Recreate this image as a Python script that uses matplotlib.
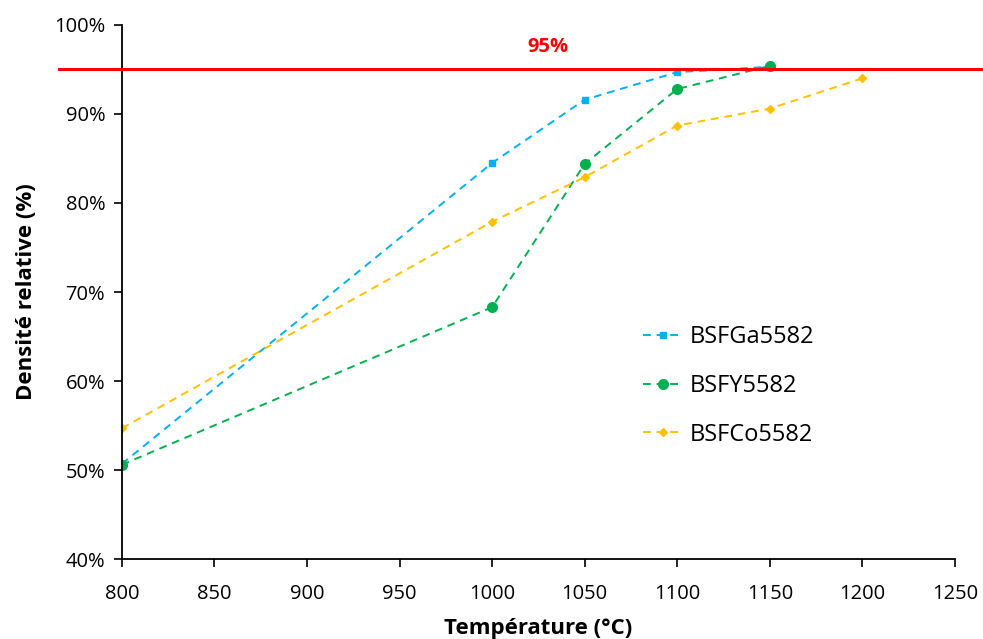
import matplotlib.pyplot as plt
from matplotlib.ticker import PercentFormatter

plt.rcParams['font.family'] = ['Open Sans', 'DejaVu Sans']

# data
temp_ga = [800, 1000, 1050, 1100, 1150]
dens_ga = [50.7, 84.5, 91.6, 94.7, 95.3]

temp_y = [800, 1000, 1050, 1100, 1150]
dens_y = [50.6, 68.3, 84.4, 92.8, 95.4]

temp_co = [800, 1000, 1050, 1100, 1150, 1200]
dens_co = [54.7, 77.9, 82.9, 88.7, 90.6, 94.0]

seuil = 95

fig = plt.figure(figsize=(9.83, 6.39), dpi=100)
ax = fig.add_axes([0.124, 0.125, 0.8475, 0.836])

ax.plot(temp_ga, dens_ga, linestyle=(0, (4, 3)), color='#00B0F0', marker='s', markersize=4.5,
        linewidth=1.4, label='BSFGa5582')
ax.plot(temp_y, dens_y, linestyle=(0, (4, 3)), color='#00B050', marker='o', markersize=7,
        linewidth=1.4, label='BSFY5582')
ax.plot(temp_co, dens_co, linestyle=(0, (4, 3)), color='#FFC000', marker='D', markersize=4.5,
        linewidth=1.4, label='BSFCo5582')

# 95% threshold line, extends past the axes like in the original
ax.axhline(seuil, xmin=-0.075, xmax=1.04, color='#FF0000', linewidth=2.2, clip_on=False, zorder=5)
ax.text(1030, seuil + 2.5, '95%', color='#FF0000', fontsize=14.5, fontweight='bold',
        ha='center', va='center')

ax.set_xlim(800, 1250)
ax.set_ylim(40, 100)
ax.set_xticks(range(800, 1251, 50))
ax.set_yticks(range(40, 101, 10))
ax.yaxis.set_major_formatter(PercentFormatter(decimals=0))
ax.tick_params(labelsize=14.5, direction='out', length=6, width=1.2, colors='black')
ax.tick_params(axis='x', pad=12)
ax.tick_params(axis='y', pad=6)

for s in ['top', 'right']:
    ax.spines[s].set_visible(False)
for s in ['left', 'bottom']:
    ax.spines[s].set_linewidth(1.3)

ax.set_xlabel('Température (°C)', fontsize=16, fontweight='bold', labelpad=10)
ax.set_ylabel('Densité relative (%)', fontsize=16, fontweight='bold', labelpad=12)

ax.legend(loc='upper left', bbox_to_anchor=(0.6, 0.478), frameon=False, fontsize=17,
          labelspacing=1.05, handlelength=1.7, handletextpad=0.3)

fig.savefig('out.png', dpi=100)
